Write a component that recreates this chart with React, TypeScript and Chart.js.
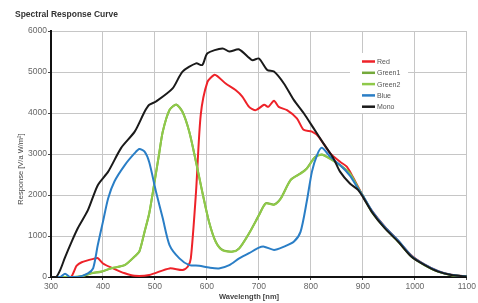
import { useEffect, useRef } from 'react';
import { Chart, registerables } from 'chart.js';
Chart.register(...registerables);

const FONT = '"Liberation Sans", Arial, Helvetica, sans-serif';

const TITLE = 'Spectral Response Curve';
const X_TITLE = 'Wavelength [nm]';
const Y_TITLE = 'Response [V/a W/m²]';

const X_MIN = 300;
const X_MAX = 1100;
const Y_MIN = 0;
const Y_MAX = 6000;

const SERIES_NAMES = ['Red', 'Green1', 'Green2', 'Blue', 'Mono'];
const SERIES_COLORS = ['#ee2229', '#74a93b', '#8fc94a', '#2a7ec6', '#1a1a1a'];

const redNm = [300, 338, 344, 349, 359, 384, 390, 400, 416, 442, 461, 489, 528, 553, 563, 569, 579, 588, 601, 614, 620, 636, 655, 668, 681, 694, 710, 718, 729, 738, 754, 773, 786, 802, 815, 837, 856, 869, 882, 901, 917, 942, 968, 993, 1019, 1045, 1070, 1100];
const redVal = [0, 0, 130, 270, 360, 450, 460, 330, 230, 90, 30, 50, 210, 170, 250, 455, 2080, 3950, 4760, 4930, 4900, 4720, 4560, 4400, 4150, 4070, 4200, 4150, 4300, 4150, 4070, 3870, 3590, 3545, 3420, 3020, 2810, 2690, 2410, 1950, 1620, 1230, 880, 530, 300, 140, 55, 10];

const green1Nm = [300, 340, 360, 378, 397, 416, 442, 461, 470, 480, 489, 499, 508, 515, 528, 541, 553, 566, 579, 591, 604, 617, 630, 649, 662, 681, 700, 713, 729, 742, 761, 780, 792, 808, 821, 837, 856, 875, 891, 901, 917, 942, 968, 993, 1019, 1045, 1070, 1100];
const green1Val = [0, 0, 20, 90, 130, 210, 290, 500, 620, 1100, 1550, 2300, 3000, 3545, 4070, 4210, 4030, 3545, 2810, 2080, 1350, 860, 660, 620, 700, 1065, 1510, 1800, 1770, 1920, 2370, 2530, 2650, 2930, 2990, 2890, 2730, 2530, 2170, 1960, 1600, 1210, 870, 510, 290, 130, 50, 10];

const green2Nm = [300, 340, 360, 378, 397, 416, 442, 461, 470, 480, 489, 499, 508, 515, 528, 541, 553, 566, 579, 591, 604, 617, 630, 649, 662, 681, 700, 713, 729, 742, 761, 780, 792, 808, 821, 837, 856, 875, 891, 901, 917, 942, 968, 993, 1019, 1045, 1070, 1100];
const green2Val = [0, 0, 25, 95, 135, 215, 295, 505, 630, 1110, 1560, 2310, 3010, 3550, 4080, 4200, 4020, 3540, 2800, 2070, 1340, 850, 650, 615, 695, 1060, 1500, 1790, 1760, 1910, 2360, 2520, 2640, 2920, 2980, 2880, 2720, 2520, 2160, 1950, 1590, 1200, 860, 500, 285, 125, 45, 10];

const blueNm = [300, 318, 327, 336, 352, 371, 381, 390, 400, 410, 422, 442, 461, 470, 480, 489, 502, 515, 528, 547, 566, 585, 604, 623, 643, 662, 681, 700, 710, 729, 748, 767, 780, 792, 802, 812, 821, 837, 856, 875, 891, 901, 917, 942, 968, 993, 1019, 1045, 1070, 1100];
const blueVal = [0, 0, 80, 0, 0, 90, 210, 780, 1350, 1920, 2330, 2730, 3020, 3120, 3060, 2800, 2080, 1430, 780, 455, 290, 275, 230, 210, 290, 455, 580, 715, 740, 660, 740, 860, 1100, 1840, 2570, 2980, 3150, 2930, 2730, 2470, 2150, 1960, 1620, 1220, 890, 520, 300, 140, 55, 10];

const monoNm = [300, 310, 318, 327, 340, 352, 371, 390, 410, 435, 461, 480, 489, 502, 534, 553, 579, 591, 601, 630, 643, 662, 687, 700, 716, 729, 748, 767, 786, 805, 824, 843, 856, 875, 891, 901, 917, 942, 968, 993, 1019, 1045, 1070, 1100];
const monoVal = [0, 0, 180, 480, 870, 1200, 1630, 2240, 2570, 3150, 3545, 4030, 4200, 4280, 4600, 5010, 5210, 5170, 5455, 5575, 5500, 5550, 5290, 5330, 5050, 5010, 4720, 4320, 4000, 3630, 3260, 2900, 2570, 2280, 2120, 1930, 1590, 1190, 860, 500, 290, 130, 50, 10];

const SERIES_X = [redNm, green1Nm, green2Nm, blueNm, monoNm];
const SERIES_Y = [redVal, green1Val, green2Val, blueVal, monoVal];

const overlay = {
  id: 'overlay',
  afterDraw(chart: any) {
    const ctx = chart.ctx as CanvasRenderingContext2D;
    ctx.save();
    // title
    ctx.fillStyle = '#333';
    ctx.font = `bold 8.5px ${FONT}`;
    ctx.textAlign = 'left';
    ctx.textBaseline = 'middle';
    ctx.fillText(TITLE, 15, 15);
    // x title
    ctx.font = `bold 7.5px ${FONT}`;
    ctx.textAlign = 'center';
    ctx.fillStyle = '#444';
    ctx.fillText(X_TITLE, 249, 297);
    // y title
    ctx.save();
    ctx.translate(21, 169);
    ctx.rotate(-Math.PI / 2);
    ctx.font = `7.5px ${FONT}`;
    ctx.fillText(Y_TITLE, 0, 0);
    ctx.restore();
    // legend
    ctx.fillStyle = '#ffffff';
    ctx.fillRect(350, 53, 58, 60);
    ctx.font = `7px ${FONT}`;
    ctx.textAlign = 'left';
    SERIES_NAMES.forEach((name, i) => {
      const y = 61.5 + i * 11.3;
      ctx.strokeStyle = SERIES_COLORS[i];
      ctx.lineWidth = 2.5;
      ctx.beginPath();
      ctx.moveTo(362, y);
      ctx.lineTo(375, y);
      ctx.stroke();
      ctx.fillStyle = '#555';
      ctx.fillText(name, 377, y + 0.5);
    });
    ctx.restore();
  },
};

export default function App() {
  const ref = useRef<HTMLCanvasElement>(null);
  useEffect(() => {
    document.body.style.margin = '0';
    const canvas = ref.current!;
    const datasets = SERIES_NAMES.map((name, i) => ({
      label: name,
      data: SERIES_X[i].map((x, j) => ({ x, y: SERIES_Y[i][j] })),
      borderColor: SERIES_COLORS[i],
      backgroundColor: SERIES_COLORS[i],
      borderWidth: 2,
      pointRadius: 0,
      tension: 0.25,
      fill: false,
      order: SERIES_NAMES.length - i,
    }));
    const tickFont = { size: 8.5, family: FONT };
    const plain = (v: any) => String(v);
    const chart = new Chart(canvas, {
      type: 'line',
      data: { datasets },
      options: {
        animation: false,
        responsive: false,
        devicePixelRatio: 1,
        layout: { padding: { top: 31, right: 9, left: 0, bottom: 0 } },
        plugins: {
          legend: { display: false },
          title: { display: false },
          tooltip: { enabled: false },
        },
        scales: {
          x: {
            type: 'linear',
            min: X_MIN,
            max: X_MAX,
            ticks: { stepSize: 100, color: '#666', font: tickFont, padding: 2, maxRotation: 0, autoSkip: false, callback: plain },
            grid: { color: '#c6c6c6', lineWidth: 1, tickLength: 3, tickColor: '#444' },
            border: { color: '#111', width: 2 },
            afterFit: (s: any) => { s.height = 26; },
          },
          y: {
            min: Y_MIN,
            max: Y_MAX,
            ticks: { stepSize: 1000, color: '#666', font: tickFont, padding: 1, callback: plain },
            grid: { color: '#c6c6c6', lineWidth: 1, tickLength: 3, tickColor: '#444' },
            border: { color: '#111', width: 2 },
            afterFit: (s: any) => { s.width = 51; },
          },
        },
      },
      plugins: [overlay],
    } as any);
    return () => chart.destroy();
  }, []);
  return (
    <div style={{ width: 478, height: 303 }}>
      <canvas ref={ref} width={478} height={303} style={{ display: 'block', width: 478, height: 303 }} />
    </div>
  );
}
